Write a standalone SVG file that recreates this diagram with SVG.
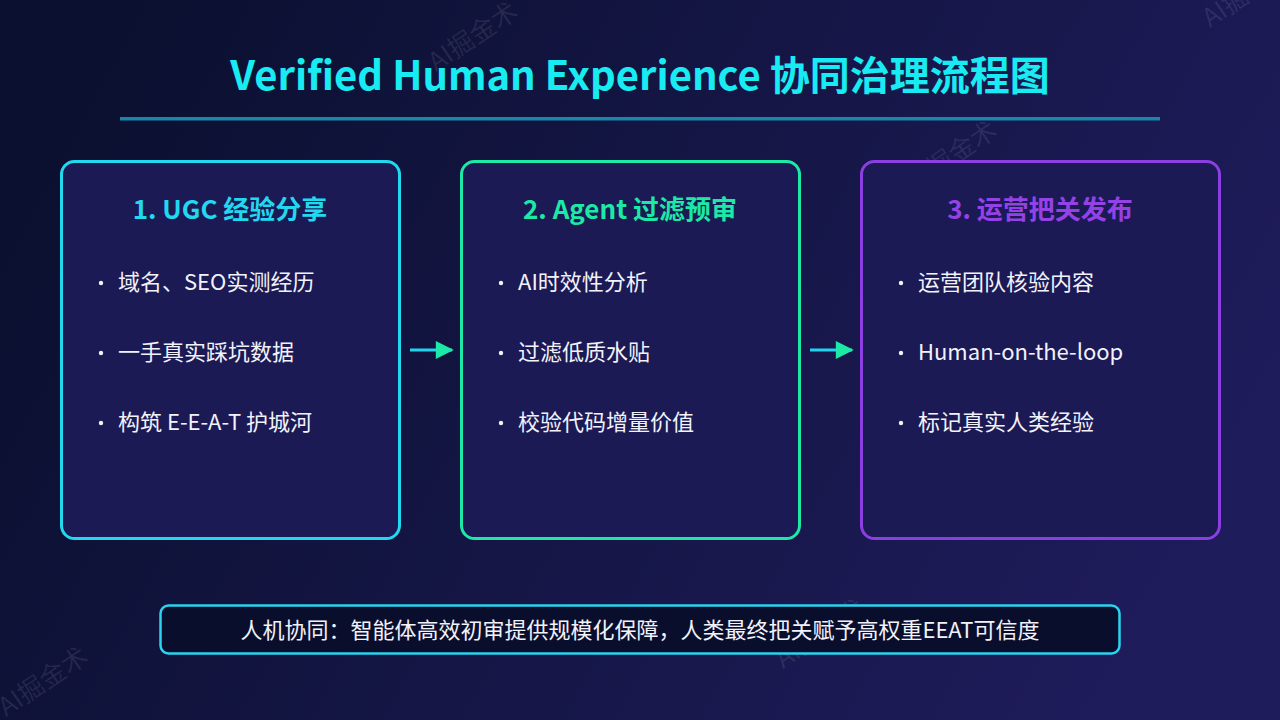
<svg xmlns="http://www.w3.org/2000/svg" width="1280" height="720" viewBox="0 0 1280 720">
  <defs>
    <linearGradient id="bg" x1="0" y1="0.35" x2="1" y2="0.65">
      <stop offset="0" stop-color="#0b1030"/>
      <stop offset="1" stop-color="#1f1c5c"/>
    </linearGradient>
    <marker id="head" viewBox="0 0 10 10" refX="9" refY="5" markerWidth="24" markerHeight="18" markerUnits="userSpaceOnUse" orient="auto">
      <path d="M0,0 L10,5 L0,10 Z" fill="#1de9a6"/>
    </marker>
    <style>
      .cjk { font-family: "Noto Sans CJK SC", "Noto Sans", sans-serif; }
      .title { font-size: 40px; font-weight: 700; fill: #18ecf2; }
      .box { fill: #1b1a55; stroke-width: 3; }
      .hdr { font-size: 26px; font-weight: 700; }
      .item { font-size: 22px; fill: #f2f2fa; }
      .dot { fill: #f2f2fa; }
      .wm { font-size: 26px; fill: #ffffff; fill-opacity: 0.09; }
      .conn { stroke: #22d3ee; stroke-width: 3; fill: none; }
    </style>
  </defs>

  <rect width="1280" height="720" fill="url(#bg)"/>

  <g id="watermarks" class="cjk">
    <text class="wm" text-anchor="middle" transform="translate(478,44) rotate(-34)">AI掘金术</text>
    <text class="wm" text-anchor="middle" transform="translate(957,163) rotate(-34)">AI掘金术</text>
    <text class="wm" text-anchor="middle" transform="translate(1130,466) rotate(-34)">AI掘金术</text>
    <text class="wm" text-anchor="middle" transform="translate(655,337) rotate(-34)">AI掘金术</text>
    <text class="wm" text-anchor="middle" transform="translate(347,511) rotate(-34)">AI掘金术</text>
    <text class="wm" text-anchor="middle" transform="translate(175,210) rotate(-34)">AI掘金术</text>
    <text class="wm" text-anchor="middle" transform="translate(825,641) rotate(-34)">AI掘金术</text>
    <text class="wm" text-anchor="middle" transform="translate(48,689) rotate(-34)">AI掘金术</text>
    <text class="wm" text-anchor="middle" transform="translate(1252,0) rotate(-34)">AI掘金术</text>
  </g>

  <g id="title">
    <text class="cjk title" x="640" y="90" text-anchor="middle">Verified Human Experience 协同治理流程图</text>
    <rect x="120" y="117" width="1040" height="3.5" fill="#1a86a8"/>
  </g>

  <g id="step1">
    <rect class="box" x="61.5" y="161.5" width="338" height="377" rx="13" stroke="#22d8ee"/>
    <text class="cjk hdr" x="230" y="219" text-anchor="middle" fill="#22d8ee">1. UGC 经验分享</text>
    <circle class="dot" cx="101" cy="283" r="2.2"/>
    <text class="cjk item" x="118" y="290">域名、SEO实测经历</text>
    <circle class="dot" cx="101" cy="353" r="2.2"/>
    <text class="cjk item" x="118" y="360">一手真实踩坑数据</text>
    <circle class="dot" cx="101" cy="423" r="2.2"/>
    <text class="cjk item" x="118" y="430">构筑 E-E-A-T 护城河</text>
  </g>

  <g id="step2">
    <rect class="box" x="461.5" y="161.5" width="338" height="377" rx="13" stroke="#1de9a6"/>
    <text class="cjk hdr" x="630" y="219" text-anchor="middle" fill="#1de9a6">2. Agent 过滤预审</text>
    <circle class="dot" cx="501" cy="283" r="2.2"/>
    <text class="cjk item" x="518" y="290">AI时效性分析</text>
    <circle class="dot" cx="501" cy="353" r="2.2"/>
    <text class="cjk item" x="518" y="360">过滤低质水贴</text>
    <circle class="dot" cx="501" cy="423" r="2.2"/>
    <text class="cjk item" x="518" y="430">校验代码增量价值</text>
  </g>

  <g id="step3">
    <rect class="box" x="861.5" y="161.5" width="358" height="377" rx="13" stroke="#8b3fe0"/>
    <text class="cjk hdr" x="1040" y="219" text-anchor="middle" fill="#9442e6">3. 运营把关发布</text>
    <circle class="dot" cx="901" cy="283" r="2.2"/>
    <text class="cjk item" x="918" y="290">运营团队核验内容</text>
    <circle class="dot" cx="901" cy="353" r="2.2"/>
    <text class="cjk item" x="918" y="360">Human-on-the-loop</text>
    <circle class="dot" cx="901" cy="423" r="2.2"/>
    <text class="cjk item" x="918" y="430">标记真实人类经验</text>
  </g>

  <g id="connectors">
    <line class="conn" x1="410" y1="350" x2="452" y2="350" marker-end="url(#head)"/>
    <line class="conn" x1="810" y1="350" x2="852" y2="350" marker-end="url(#head)"/>
  </g>

  <g id="summary">
    <rect x="160.5" y="605.5" width="959" height="48" rx="8" fill="#0a0e2d" stroke="#2ad4ee" stroke-width="2.5"/>
    <text class="cjk item" x="640" y="638" text-anchor="middle" fill="#ffffff">人机协同：智能体高效初审提供规模化保障，人类最终把关赋予高权重EEAT可信度</text>
  </g>
</svg>
